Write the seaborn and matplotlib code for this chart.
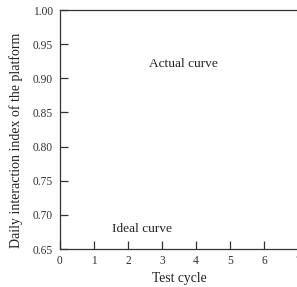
"""plot.py - platform daily interaction index vs test cycle (empty frame with curve labels)"""
import matplotlib
matplotlib.use("Agg")
import matplotlib.pyplot as plt
import seaborn as sns

# tick values
x_ticks = [0, 1, 2, 3, 4, 5, 6, 7]
y_ticks = [0.65, 0.70, 0.75, 0.80, 0.85, 0.90, 0.95, 1.00]
curve_names = ["Actual curve", "Ideal curve"]
curve_label_x = [3.64, 2.42]
curve_label_y = [0.921, 0.679]

sns.set_style("ticks")
plt.rcParams["font.family"] = ["Liberation Serif", "DejaVu Serif"]

fig = plt.figure(figsize=(2.97, 2.87), dpi=100)
ax = fig.add_axes([0.202, 0.1324, 0.802, 0.8326])  # right end sits just past the figure edge, like the original

ax.set_xlim(0, 7)
ax.set_ylim(0.65, 1.00)
ax.set_xticks(x_ticks)
ax.set_yticks(y_ticks)
ax.set_xticklabels([str(v) for v in x_ticks])
ax.set_yticklabels([f"{v:.2f}" for v in y_ticks])

for s in ax.spines.values():
    s.set_color("#333333")
    s.set_linewidth(0.9)

ax.tick_params(direction="in", length=6, width=0.9, color="#333333", labelsize=8.3, labelcolor="#333333")
ax.tick_params(axis="x", pad=4)
ax.tick_params(axis="y", pad=5)

for name, tx, ty in zip(curve_names, curve_label_x, curve_label_y):
    ax.text(tx, ty, name, ha="center", va="center", fontsize=9.6, color="#222222")

ax.set_xlabel("Test cycle", fontsize=9.8, color="#222222")
ax.set_ylabel("Daily interaction index of the platform", fontsize=10, color="#222222")
ax.xaxis.set_label_coords(0.5, -0.095)
ax.yaxis.set_label_coords(-0.155, 0.455)

fig.savefig("out.png", dpi=100)
plt.close(fig)
